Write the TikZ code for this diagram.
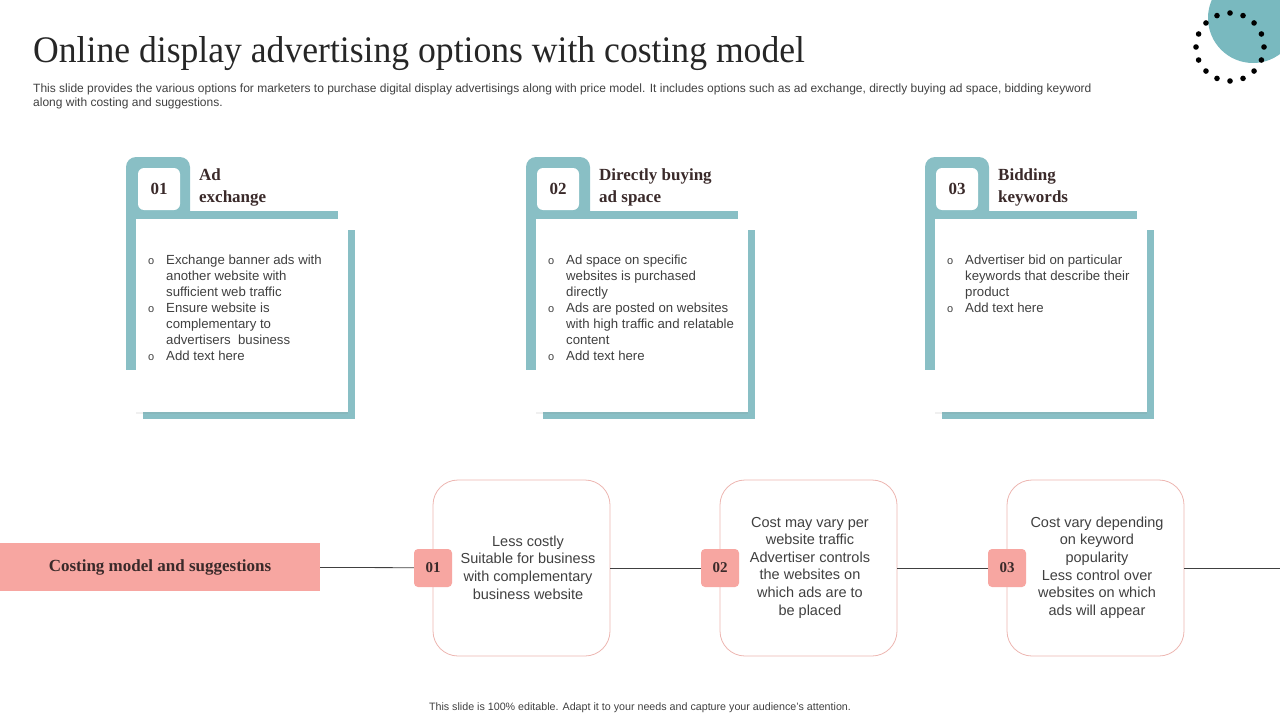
\documentclass[tikz,border=0pt]{standalone}
\usepackage{fontspec}
\setmainfont{Liberation Serif}
\setsansfont{Liberation Sans}
\newfontfamily\titlefont[FakeStretch=0.95]{Liberation Serif}
\usepackage{xcolor}
\usetikzlibrary{positioning,shadows}

\definecolor{cardteal}{HTML}{89BFC5}
\definecolor{dotteal}{HTML}{79B9BF}
\definecolor{salmon}{HTML}{F7A6A1}
\definecolor{roseline}{HTML}{EDB6B1}
\definecolor{txtgray}{HTML}{404040}
\definecolor{headbrown}{HTML}{3A2A2A}

\newcommand{\bul}{\makebox[18pt][l]{\fontsize{11}{11}\selectfont o}}
\newcommand{\cont}{\hspace*{18pt}}

\begin{document}
\begin{tikzpicture}[x=1pt,y=-1pt,
    card/.style={fill=white, minimum width=212pt, minimum height=193pt, inner sep=0pt,
      drop shadow={opacity=0.12, shadow xshift=0pt, shadow yshift=-2pt}},
    numbox/.style={fill=white, rounded corners=6pt, minimum size=42pt, inner sep=0pt,
      font=\fontsize{17}{17}\selectfont\bfseries, text=headbrown},
    head/.style={anchor=north west, inner sep=0pt, align=left,
      font=\fontsize{17}{22}\selectfont\bfseries, text=headbrown},
    bultext/.style={anchor=north west, inner sep=0pt, align=left,
      font=\sffamily\fontsize{13.2}{16}\selectfont, text=txtgray},
    sugbox/.style={draw=roseline, fill=white, rounded corners=25pt, line width=0.8pt,
      minimum width=177pt, minimum height=176pt, inner sep=0pt},
    sugtext/.style={align=center, inner sep=0pt,
      font=\sffamily\fontsize{14.5}{17.6}\selectfont, text=txtgray},
    pinknum/.style={fill=salmon, rounded corners=4pt, minimum size=38pt, inner sep=0pt,
      font=\fontsize{15}{15}\selectfont\bfseries, text=headbrown},
    link/.style={draw=black!75, line width=0.8pt}]
  \useasboundingbox (0,0) rectangle (1280,720);

  % title and intro
  \node[anchor=base west, inner sep=0pt, text=black!85,
        font=\titlefont\fontsize{37.5}{37.5}\selectfont] (title) at (33,62)
    {Online display advertising options with costing model};
  \node[anchor=north west, inner sep=0pt, align=left, text=txtgray,
        font=\sffamily\fontsize{12}{14}\selectfont] (intro) at (33,84)
    {This slide provides the various options for marketers to purchase digital display advertisings along with price model. It includes options such as ad exchange, directly buying ad space, bidding keyword\\
     along with costing and suggestions.};

  % corner decoration
  \fill[dotteal] (1253,18) circle (45);
  \foreach \a in {0,22.5,...,337.5}
    \fill[black] (1230,47) ++(\a:34) circle (2.8);

  % card 01
  \fill[cardteal] (143,230) rectangle (355,419);
  \fill[cardteal, rounded corners=10pt] (126,157) rectangle (190,232);
  \fill[cardteal] (126,211) rectangle (338,219);
  \fill[cardteal] (126,211) rectangle (136,370);
  \node[card] (c1) at (242,315.5) {};
  \node[numbox] (n1) at (159,189) {01};
  \node[head] (h1) at (199,169) {Ad\\exchange};
  \node[bultext] (b1) at (148,254.5)
    {\bul Exchange banner ads with\\ \cont another website with\\ \cont sufficient web traffic\\
     \bul Ensure website is\\ \cont complementary to\\ \cont advertisers\ \ business\\
     \bul Add text here};

  % card 02
  \fill[cardteal] (543,230) rectangle (755,419);
  \fill[cardteal, rounded corners=10pt] (526,157) rectangle (590,232);
  \fill[cardteal] (526,211) rectangle (738,219);
  \fill[cardteal] (526,211) rectangle (536,370);
  \node[card] (c2) at (642,315.5) {};
  \node[numbox] (n2) at (558,189) {02};
  \node[head] (h2) at (599,169) {Directly buying\\ad space};
  \node[bultext] (b2) at (548,254.5)
    {\bul Ad space on specific\\ \cont websites is purchased\\ \cont directly\\
     \bul Ads are posted on websites\\ \cont with high traffic and relatable\\ \cont content\\
     \bul Add text here};

  % card 03
  \fill[cardteal] (942,230) rectangle (1154,419);
  \fill[cardteal, rounded corners=10pt] (925,157) rectangle (989,232);
  \fill[cardteal] (925,211) rectangle (1137,219);
  \fill[cardteal] (925,211) rectangle (935,370);
  \node[card] (c3) at (1041,315.5) {};
  \node[numbox] (n3) at (957,189) {03};
  \node[head] (h3) at (998,169) {Bidding\\keywords};
  \node[bultext] (b3) at (947,254.5)
    {\bul Advertiser bid on particular\\ \cont keywords that describe their\\ \cont product\\
     \bul Add text here};

  % costing row
  \node[fill=salmon, minimum width=320pt, minimum height=48pt, inner sep=0pt,
        font=\fontsize{17}{17}\selectfont\bfseries, text=headbrown] (cost) at (160,567)
    {Costing model and suggestions};
  \coordinate (rowend) at (1280,568);
  \node[sugbox] (s1) at (521.5,568) {};
  \node[sugbox] (s2) at (808.5,568) {};
  \node[sugbox] (s3) at (1095.5,568) {};
  \draw[link] (cost) -- (s1);
  \draw[link] (s1) -- (s2);
  \draw[link] (s2) -- (s3);
  \draw[link] (s3) -- (rowend);
  \node[sugtext] (t1) at (528,567.5) {Less costly\\Suitable for business\\with complementary\\business website};
  \node[sugtext] (t2) at (810,567.5) {Cost may vary per\\website traffic\\Advertiser controls\\the websites on\\which ads are to\\be placed};
  \node[sugtext] (t3) at (1097,567.5) {Cost vary depending\\on keyword\\popularity\\Less control over\\websites on which\\ads will appear};
  \node[pinknum] (p1) at (433,568) {01};
  \node[pinknum] (p2) at (720,568) {02};
  \node[pinknum] (p3) at (1007,568) {03};

  % footer
  \node[inner sep=0pt, text=txtgray, font=\sffamily\fontsize{10.7}{10.7}\selectfont] (foot) at (640,708)
    {This slide is 100\% editable. Adapt it to your needs and capture your audience's attention.};
\end{tikzpicture}
\end{document}
